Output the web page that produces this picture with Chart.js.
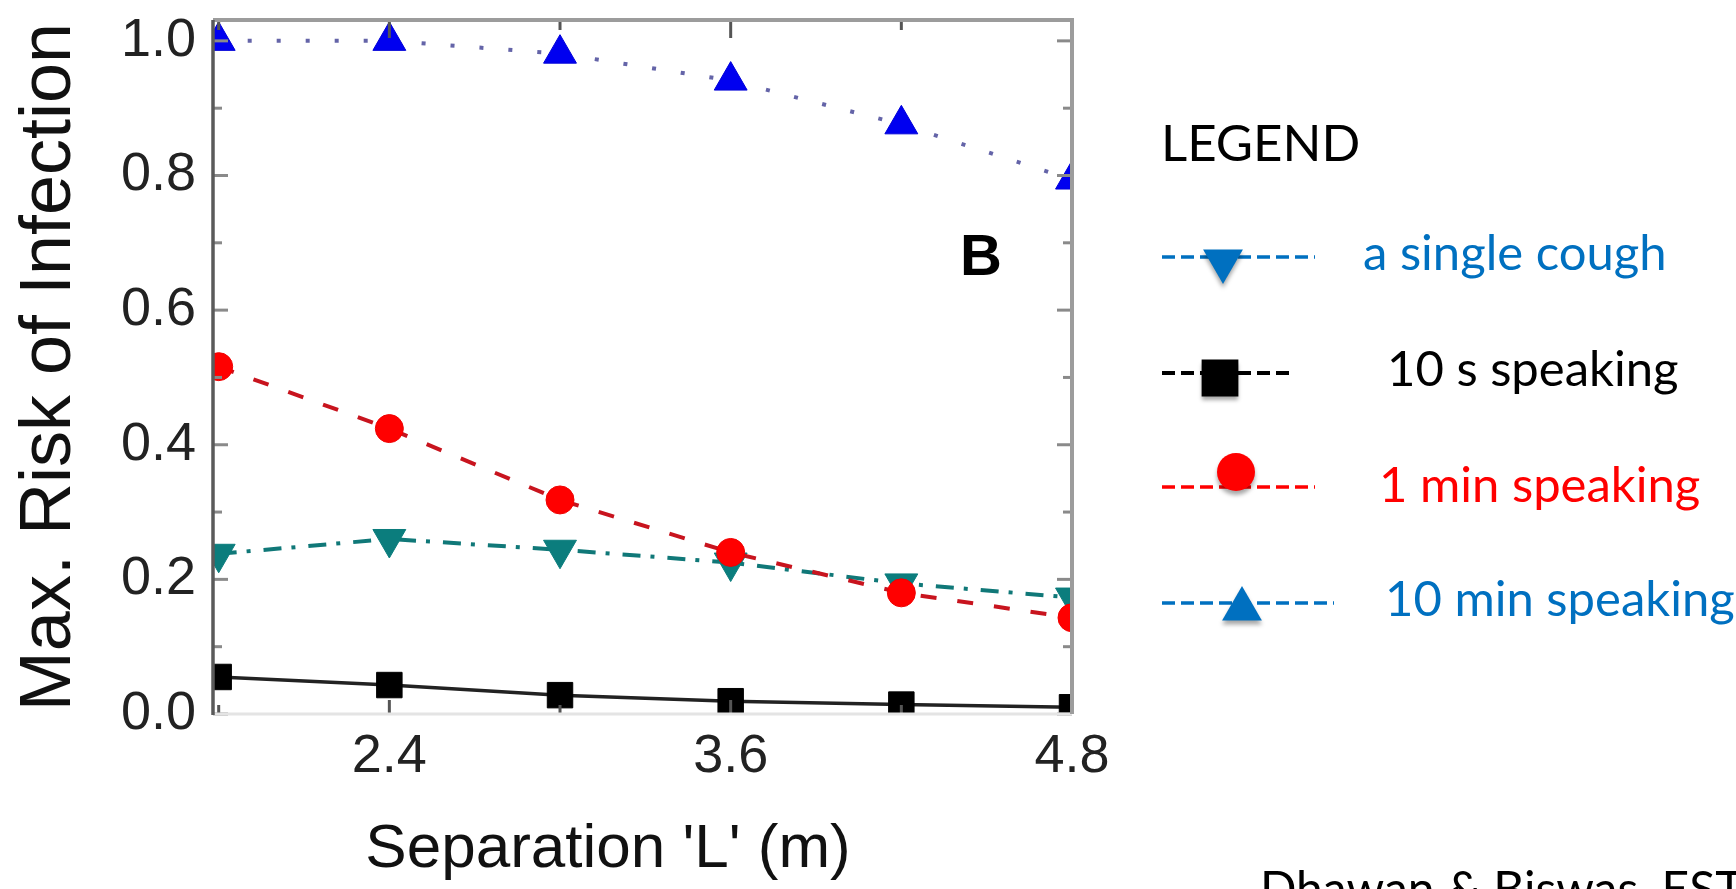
<!DOCTYPE html>
<html>
<head>
<meta charset="utf-8">
<title>Max. Risk of Infection</title>
<script src="https://cdn.jsdelivr.net/npm/chart.js@4.4.1/dist/chart.umd.min.js"></script>
<style>
  html, body { margin: 0; padding: 0; background: #fff; overflow: hidden; }
</style>
</head>
<body>
<canvas id="myChart" width="1736" height="889"></canvas>
<script>
// separation distance in metres
var separation = [1.8, 2.4, 3.0, 3.6, 4.2, 4.8];
// max. risk of infection for each case
var singleCough = [0.238, 0.260, 0.244, 0.225, 0.194, 0.173];
var speaking10s = [0.055, 0.043, 0.028, 0.019, 0.014, 0.010];
var speaking1min = [0.516, 0.424, 0.318, 0.240, 0.180, 0.143];
var speaking10min = [1.0, 1.0, 0.981, 0.941, 0.876, 0.794];
var seriesNames = ['a single cough', '10 s speaking', '1 min speaking', '10 min speaking'];

// axis ticks
var xTicks = [2.4, 3.6, 4.8];
var xTickLabels = ['2.4', '3.6', '4.8'];
var xMinorTicks = [1.8, 3.0, 4.2];
var yTicks = [0, 0.2, 0.4, 0.6, 0.8, 1.0];
var yTickLabels = ['0.0', '0.2', '0.4', '0.6', '0.8', '1.0'];
var yMinorTicks = [0.1, 0.3, 0.5, 0.7, 0.9];

var axisFont = "'Liberation Sans', Arial, sans-serif";
var handFont = "Lato, 'Open Sans', sans-serif";

//the original uses a tall narrow font for the horizontal texts, use the narrow one if it is there
function hasFont(name) {
    var c = document.createElement('canvas').getContext('2d');
    c.font = '40px monospace';
    var w1 = c.measureText('0.8 Separation').width;
    c.font = "40px '" + name + "', monospace";
    return c.measureText('0.8 Separation').width !== w1;
}
var narrow = hasFont('Liberation Sans Narrow');
var narrowFont = "'Liberation Sans Narrow', " + axisFont;
var tickFont = narrow ? { family: narrowFont, size: 63 } : { family: axisFont, size: 54 };
var tickPadX = narrow ? 6 : 11;
var xTitleFont = narrow ? { family: narrowFont, size: 74 } : { family: axisFont, size: 62 };

function points(values) {
    return separation.map(function (x, i) { return { x: x, y: values[i] }; });
}

//frame with inward ticks on all four sides, like the original plot
var framePlugin = {
    id: 'frame',
    afterDatasetsDraw: function (chart) {
        var ctx = chart.ctx, a = chart.chartArea;
        var xs = chart.scales.x, ys = chart.scales.y;
        function seg(x1, y1, x2, y2) { ctx.beginPath(); ctx.moveTo(x1, y1); ctx.lineTo(x2, y2); ctx.stroke(); }
        ctx.save();
        ctx.lineWidth = 3;
        ctx.strokeStyle = '#8a8a8a';
        yTicks.forEach(function (v) {
            var y = ys.getPixelForValue(v);
            seg(a.left, y, a.left + 15, y);
            seg(a.right, y, a.right - 15, y);
        });
        yMinorTicks.forEach(function (v) {
            var y = ys.getPixelForValue(v);
            seg(a.left, y, a.left + 9, y);
            seg(a.right, y, a.right - 9, y);
        });
        ctx.strokeStyle = '#555';
        xTicks.forEach(function (v) {
            var x = xs.getPixelForValue(v);
            seg(x, a.top, x, a.top + 18);
            seg(x, a.bottom, x, a.bottom - 14);
        });
        xMinorTicks.forEach(function (v) {
            var x = xs.getPixelForValue(v);
            seg(x, a.top, x, a.top + 10);
            seg(x, a.bottom, x, a.bottom - 9);
        });
        // box
        ctx.lineWidth = 3;
        ctx.strokeStyle = '#e4e4e4';
        seg(a.left, a.bottom, a.right, a.bottom);
        ctx.lineWidth = 4;
        ctx.strokeStyle = '#9c9c9c';
        seg(a.left, a.top, a.right + 2, a.top);
        seg(a.right, a.top, a.right, a.bottom);
        ctx.lineWidth = 3.5;
        ctx.strokeStyle = '#5a5a5a';
        seg(a.left, a.top, a.left, a.bottom + 1);
        ctx.restore();
    }
};

function marker(ctx, style, x, y, r, rotation) {
    ctx.beginPath();
    if (style === 'circle') {
        ctx.arc(x, y, r, 0, Math.PI * 2);
    } else if (style === 'rect') {
        var s = r * Math.SQRT1_2;
        ctx.rect(x - s, y - s, 2 * s, 2 * s);
    } else {
        var rad = (rotation || 0) * Math.PI / 180;
        for (var k = 0; k < 3; k++) {
            var px = x + Math.sin(rad) * r, py = y - Math.cos(rad) * r;
            if (k === 0) ctx.moveTo(px, py); else ctx.lineTo(px, py);
            rad += 2 * Math.PI / 3;
        }
        ctx.closePath();
    }
    ctx.fill();
}

// hand drawn looking legend on the right, the panel letter and the source
var legendColors = ['#0070c0', '#000000', '#ff0000', '#0070c0'];
var legendMarkers = [
    { style: 'triangle', rotation: 180, r: 23, x: 1223, y: 261 },
    { style: 'rect', rotation: 0, r: 26, x: 1220, y: 378 },
    { style: 'circle', rotation: 0, r: 19, x: 1236, y: 472 },
    { style: 'triangle', rotation: 0, r: 23, x: 1242, y: 609 }
];
var legendRows = [
    { lineY: 257, lineEnd: 1315, textX: 1363, textY: 270 },
    { lineY: 373, lineEnd: 1295, textX: 1387, textY: 386 },
    { lineY: 487, lineEnd: 1315, textX: 1379, textY: 502 },
    { lineY: 603, lineEnd: 1334, textX: 1385, textY: 616 }
];

var notesPlugin = {
    id: 'notes',
    afterDraw: function (chart) {
        var ctx = chart.ctx;
        var xs = chart.scales.x, ys = chart.scales.y;
        ctx.save();
        // panel letter
        ctx.fillStyle = '#000';
        ctx.font = 'bold 58px ' + axisFont;
        ctx.textAlign = 'center';
        ctx.textBaseline = 'middle';
        ctx.fillText('B', xs.getPixelForValue(4.48), ys.getPixelForValue(0.676));

        ctx.textAlign = 'left';
        ctx.textBaseline = 'alphabetic';
        ctx.font = '51px ' + handFont;
        ctx.fillText('LEGEND', 1161, 161);

        ctx.font = '49px ' + handFont;
        for (var i = 0; i < seriesNames.length; i++) {
            var row = legendRows[i], m = legendMarkers[i];
            ctx.strokeStyle = legendColors[i];
            ctx.fillStyle = legendColors[i];
            ctx.lineWidth = i === 1 ? 4 : 3.5;
            ctx.setLineDash([13, 6]);
            ctx.beginPath();
            ctx.moveTo(1162, row.lineY);
            ctx.lineTo(row.lineEnd, row.lineY);
            ctx.stroke();
            ctx.setLineDash([]);
            ctx.save();
            ctx.shadowColor = 'rgba(0,0,0,0.35)';
            ctx.shadowOffsetY = 4;
            ctx.shadowBlur = 4;
            marker(ctx, m.style, m.x, m.y, m.r, m.rotation);
            ctx.restore();
            ctx.fillText(seriesNames[i], row.textX, row.textY);
        }

        ctx.fillStyle = '#000';
        ctx.font = '48px ' + handFont;
        ctx.fillText('Dhawan & Biswas, EST', 1260, 906);
        ctx.restore();
    }
};

var ctx = document.getElementById('myChart');
var myChart = new Chart(ctx, {
    type: 'line',
    data: {
        datasets: [{
            label: seriesNames[0],
            data: points(singleCough),
            borderColor: '#107878',
            borderWidth: 4,
            borderDash: [18, 10, 4, 13],
            pointStyle: 'triangle',
            pointRotation: 180,
            pointRadius: 19,
            pointBackgroundColor: '#0b7d7d',
            pointBorderColor: '#0b7d7d',
            pointBorderWidth: 1,
            clip: 0,
            order: 1
        }, {
            label: seriesNames[1],
            data: points(speaking10s),
            borderColor: '#222',
            borderWidth: 3.5,
            pointStyle: 'rect',
            pointRadius: 18,
            pointBackgroundColor: '#000',
            pointBorderColor: '#000',
            pointBorderWidth: 1,
            clip: 0,
            order: 2
        }, {
            label: seriesNames[2],
            data: points(speaking1min),
            borderColor: '#c8141e',
            borderWidth: 4,
            borderDash: [16, 21],
            pointStyle: 'circle',
            pointRadius: 14,
            pointBackgroundColor: '#ff0000',
            pointBorderColor: '#f00000',
            pointBorderWidth: 1,
            clip: 0,
            order: 0
        }, {
            label: seriesNames[3],
            data: points(speaking10min),
            borderColor: '#6464a8',
            borderWidth: 4,
            borderDash: [4, 25],
            pointStyle: 'triangle',
            pointRadius: 19,
            pointBackgroundColor: '#0000f0',
            pointBorderColor: '#0000d8',
            pointBorderWidth: 1,
            clip: 0,
            order: 3
        }]
    },
    options: {
        responsive: false,
        animation: false,
        devicePixelRatio: 1,
        layout: { padding: { top: 17, right: 664, bottom: 0, left: 0 } },
        plugins: {
            legend: { display: false },
            tooltip: { enabled: false }
        },
        scales: {
            x: {
                type: 'linear',
                min: 1.78,
                max: 4.8,
                grid: { display: false, drawTicks: false },
                border: { display: false },
                afterBuildTicks: function (s) { s.ticks = xTicks.map(function (v) { return { value: v }; }); },
                afterFit: function (s) { s.height = 175; s.paddingLeft = 0; s.paddingRight = 0; },
                ticks: {
                    padding: tickPadX,
                    color: '#222',
                    maxRotation: 0,
                    autoSkip: false,
                    font: tickFont,
                    callback: function (v, i) { return xTickLabels[i]; }
                },
                title: {
                    display: true,
                    // trailing spaces nudge the title left, as in the original
                    text: "Separation 'L' (m)    ",
                    color: '#111',
                    font: xTitleFont,
                    padding: { top: 0, bottom: 2 }
                }
            },
            y: {
                min: 0,
                max: 1.031,
                grid: { display: false, drawTicks: false },
                border: { display: false },
                afterBuildTicks: function (s) { s.ticks = yTicks.map(function (v) { return { value: v }; }); },
                afterFit: function (s) { s.width = 213; s.paddingTop = 0; s.paddingBottom = 0; },
                ticks: {
                    padding: 17,
                    color: '#222',
                    font: tickFont,
                    callback: function (v, i) { return yTickLabels[i]; }
                },
                title: {
                    display: true,
                    text: 'Max. Risk of Infection',
                    color: '#111',
                    font: { family: axisFont, size: 72 },
                    padding: { top: 7, bottom: 0 }
                }
            }
        }
    },
    plugins: [framePlugin, notesPlugin]
});
</script>
</body>
</html>
